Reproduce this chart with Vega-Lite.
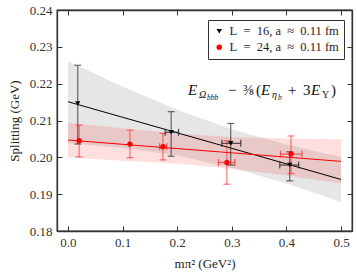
{
  "$schema": "https://vega.github.io/schema/vega-lite/v6.json",
  "width": 295,
  "height": 221,
  "autosize": {"type": "none"},
  "padding": {"left": 57, "top": 10, "right": 5, "bottom": 44},
  "background": "white",
  "config": {
    "font": "Liberation Serif",
    "view": {"stroke": "#333", "strokeWidth": 1.3},
    "axis": {"domainColor": "#333", "domainWidth": 1.3, "tickColor": "#333", "tickWidth": 1, "tickSize": -5, "labelPadding": 10, "labelOverlap": false, "labelFont": "Liberation Serif", "labelFontSize": 13, "labelColor": "#333", "titleFont": "Liberation Serif", "titleFontSize": 13, "titleFontWeight": "normal", "titleColor": "#222", "grid": false},
    "legend": {"strokeColor": "#333", "fillColor": "white", "padding": 5, "cornerRadius": 0, "labelFont": "Liberation Serif", "labelFontSize": 12.5, "labelColor": "#222", "symbolSize": 30, "rowPadding": 3}
  },
  "datasets": {
    "pts": [
      {"s": "L = 16, a ≈ 0.11 fm", "x": 0.018, "y": 0.2146, "ylo": 0.2036, "yhi": 0.2250},
      {"s": "L = 16, a ≈ 0.11 fm", "x": 0.189, "y": 0.2068, "ylo": 0.2003, "yhi": 0.2124, "xlo": 0.178, "xhi": 0.2025},
      {"s": "L = 16, a ≈ 0.11 fm", "x": 0.298, "y": 0.2038, "ylo": 0.1979, "yhi": 0.2092, "xlo": 0.2818, "xhi": 0.3164},
      {"s": "L = 16, a ≈ 0.11 fm", "x": 0.406, "y": 0.1979, "ylo": 0.1936, "yhi": 0.2015, "xlo": 0.3878, "xhi": 0.4224},
      {"s": "L = 24, a ≈ 0.11 fm", "x": 0.0205, "y": 0.2045, "ylo": 0.2001, "yhi": 0.2087},
      {"s": "L = 24, a ≈ 0.11 fm", "x": 0.1135, "y": 0.2036, "ylo": 0.1999, "yhi": 0.2074},
      {"s": "L = 24, a ≈ 0.11 fm", "x": 0.174, "y": 0.2029, "ylo": 0.1993, "yhi": 0.2065, "xlo": 0.168, "xhi": 0.181},
      {"s": "L = 24, a ≈ 0.11 fm", "x": 0.291, "y": 0.1986, "ylo": 0.1927, "yhi": 0.2045, "xlo": 0.2756, "xhi": 0.3055},
      {"s": "L = 24, a ≈ 0.11 fm", "x": 0.4084, "y": 0.2009, "ylo": 0.1956, "yhi": 0.2058, "xlo": 0.389, "xhi": 0.4284}
    ],
    "band": [
      {"s": "B", "x": 0.0, "lo": 0.2039, "hi": 0.2261},
      {"s": "B", "x": 0.1, "lo": 0.2026, "hi": 0.2192},
      {"s": "B", "x": 0.2, "lo": 0.2005, "hi": 0.2129},
      {"s": "B", "x": 0.3, "lo": 0.1972, "hi": 0.2076},
      {"s": "B", "x": 0.4, "lo": 0.1929, "hi": 0.2035},
      {"s": "B", "x": 0.5, "lo": 0.1879, "hi": 0.2001},
      {"s": "R", "x": 0.0, "lo": 0.2000, "hi": 0.2094},
      {"s": "R", "x": 0.1, "lo": 0.1991, "hi": 0.2079},
      {"s": "R", "x": 0.2, "lo": 0.1983, "hi": 0.2065},
      {"s": "R", "x": 0.3, "lo": 0.1969, "hi": 0.2055},
      {"s": "R", "x": 0.4, "lo": 0.1951, "hi": 0.2051},
      {"s": "R", "x": 0.5, "lo": 0.1929, "hi": 0.2049}
    ],
    "fit": [
      {"s": "B", "x": 0.0, "y": 0.2151},
      {"s": "B", "x": 0.5, "y": 0.1940},
      {"s": "R", "x": 0.0, "y": 0.2047},
      {"s": "R", "x": 0.5, "y": 0.1989}
    ],
    "one": [{}]
  },
  "layer": [
    {
      "layer": [
        {
          "data": {"name": "band"},
          "transform": [{"filter": "datum.s == 'B'"}],
          "mark": {"type": "area", "color": "#808080", "opacity": 0.2},
          "encoding": {
            "x": {"field": "x", "type": "quantitative", "title": "mπ² (GeV²)", "scale": {"domain": [-0.02, 0.52], "nice": false, "zero": false}, "axis": {"values": [0, 0.1, 0.2, 0.3, 0.4, 0.5], "format": ".1f", "titlePadding": 8, "labelOverlap": false}},
            "y": {"field": "lo", "type": "quantitative", "title": "Splitting (GeV)", "scale": {"domain": [0.18, 0.24], "nice": false, "zero": false}, "axis": {"values": [0.18, 0.19, 0.2, 0.21, 0.22, 0.23, 0.24], "format": ".2f", "titlePadding": 8, "labelOverlap": false}},
            "y2": {"field": "hi"}
          }
        },
        {
          "data": {"name": "band"},
          "transform": [{"filter": "datum.s == 'R'"}],
          "mark": {"type": "area", "color": "red", "opacity": 0.13},
          "encoding": {
            "x": {"field": "x", "type": "quantitative", "title": "mπ² (GeV²)", "scale": {"domain": [-0.02, 0.52], "nice": false, "zero": false}, "axis": {"values": [0, 0.1, 0.2, 0.3, 0.4, 0.5], "format": ".1f", "titlePadding": 8, "labelOverlap": false}},
            "y": {"field": "lo", "type": "quantitative", "title": "Splitting (GeV)", "scale": {"domain": [0.18, 0.24], "nice": false, "zero": false}, "axis": {"values": [0.18, 0.19, 0.2, 0.21, 0.22, 0.23, 0.24], "format": ".2f", "titlePadding": 8, "labelOverlap": false}},
            "y2": {"field": "hi"}
          }
        },
        {
          "data": {"name": "fit"},
          "transform": [{"filter": "datum.s == 'B'"}],
          "mark": {"type": "line", "color": "black", "strokeWidth": 1},
          "encoding": {
            "x": {"field": "x", "type": "quantitative", "title": "mπ² (GeV²)", "scale": {"domain": [-0.02, 0.52], "nice": false, "zero": false}, "axis": {"values": [0, 0.1, 0.2, 0.3, 0.4, 0.5], "format": ".1f", "titlePadding": 8, "labelOverlap": false}},
            "y": {"field": "y", "type": "quantitative", "title": "Splitting (GeV)", "scale": {"domain": [0.18, 0.24], "nice": false, "zero": false}, "axis": {"values": [0.18, 0.19, 0.2, 0.21, 0.22, 0.23, 0.24], "format": ".2f", "titlePadding": 8, "labelOverlap": false}}
          }
        },
        {
          "data": {"name": "fit"},
          "transform": [{"filter": "datum.s == 'R'"}],
          "mark": {"type": "line", "color": "red", "strokeWidth": 1},
          "encoding": {
            "x": {"field": "x", "type": "quantitative", "title": "mπ² (GeV²)", "scale": {"domain": [-0.02, 0.52], "nice": false, "zero": false}, "axis": {"values": [0, 0.1, 0.2, 0.3, 0.4, 0.5], "format": ".1f", "titlePadding": 8, "labelOverlap": false}},
            "y": {"field": "y", "type": "quantitative", "title": "Splitting (GeV)", "scale": {"domain": [0.18, 0.24], "nice": false, "zero": false}, "axis": {"values": [0.18, 0.19, 0.2, 0.21, 0.22, 0.23, 0.24], "format": ".2f", "titlePadding": 8, "labelOverlap": false}}
          }
        },
        {
          "data": {"name": "pts"},
          "transform": [{"filter": "indexof(datum.s, '16') >= 0"}],
          "mark": {"type": "errorbar", "ticks": {"size": 7}, "color": "#222", "opacity": 0.65, "thickness": 1.2},
          "encoding": {
            "x": {"field": "x", "type": "quantitative", "title": "mπ² (GeV²)", "scale": {"domain": [-0.02, 0.52], "nice": false, "zero": false}, "axis": {"values": [0, 0.1, 0.2, 0.3, 0.4, 0.5], "format": ".1f", "titlePadding": 8, "labelOverlap": false}},
            "y": {"field": "ylo", "type": "quantitative", "title": "Splitting (GeV)", "scale": {"domain": [0.18, 0.24], "nice": false, "zero": false}, "axis": {"values": [0.18, 0.19, 0.2, 0.21, 0.22, 0.23, 0.24], "format": ".2f", "titlePadding": 8, "labelOverlap": false}},
            "y2": {"field": "yhi"}
          }
        },
        {
          "data": {"name": "pts"},
          "transform": [{"filter": "indexof(datum.s, '24') >= 0"}],
          "mark": {"type": "errorbar", "ticks": {"size": 7}, "color": "#ff2020", "opacity": 0.6, "thickness": 1.2},
          "encoding": {
            "x": {"field": "x", "type": "quantitative", "title": "mπ² (GeV²)", "scale": {"domain": [-0.02, 0.52], "nice": false, "zero": false}, "axis": {"values": [0, 0.1, 0.2, 0.3, 0.4, 0.5], "format": ".1f", "titlePadding": 8, "labelOverlap": false}},
            "y": {"field": "ylo", "type": "quantitative", "title": "Splitting (GeV)", "scale": {"domain": [0.18, 0.24], "nice": false, "zero": false}, "axis": {"values": [0.18, 0.19, 0.2, 0.21, 0.22, 0.23, 0.24], "format": ".2f", "titlePadding": 8, "labelOverlap": false}},
            "y2": {"field": "yhi"}
          }
        },
        {
          "data": {"name": "pts"},
          "transform": [{"filter": "isValid(datum.xlo) && indexof(datum.s, '16') >= 0"}],
          "mark": {"type": "errorbar", "ticks": {"size": 7}, "color": "#222", "opacity": 0.8, "thickness": 1.2},
          "encoding": {
            "y": {"field": "y", "type": "quantitative", "title": "Splitting (GeV)", "scale": {"domain": [0.18, 0.24], "nice": false, "zero": false}, "axis": {"values": [0.18, 0.19, 0.2, 0.21, 0.22, 0.23, 0.24], "format": ".2f", "titlePadding": 8, "labelOverlap": false}},
            "x": {"field": "xlo", "type": "quantitative", "title": "mπ² (GeV²)", "scale": {"domain": [-0.02, 0.52], "nice": false, "zero": false}, "axis": {"values": [0, 0.1, 0.2, 0.3, 0.4, 0.5], "format": ".1f", "titlePadding": 8, "labelOverlap": false}},
            "x2": {"field": "xhi"}
          }
        },
        {
          "data": {"name": "pts"},
          "transform": [{"filter": "isValid(datum.xlo) && indexof(datum.s, '24') >= 0"}],
          "mark": {"type": "errorbar", "ticks": {"size": 7}, "color": "#ff2020", "opacity": 0.7, "thickness": 1.2},
          "encoding": {
            "y": {"field": "y", "type": "quantitative", "title": "Splitting (GeV)", "scale": {"domain": [0.18, 0.24], "nice": false, "zero": false}, "axis": {"values": [0.18, 0.19, 0.2, 0.21, 0.22, 0.23, 0.24], "format": ".2f", "titlePadding": 8, "labelOverlap": false}},
            "x": {"field": "xlo", "type": "quantitative", "title": "mπ² (GeV²)", "scale": {"domain": [-0.02, 0.52], "nice": false, "zero": false}, "axis": {"values": [0, 0.1, 0.2, 0.3, 0.4, 0.5], "format": ".1f", "titlePadding": 8, "labelOverlap": false}},
            "x2": {"field": "xhi"}
          }
        },
        {
          "data": {"name": "pts"},
          "mark": {"type": "point", "filled": true, "opacity": 1, "size": 28},
          "encoding": {
            "x": {"field": "x", "type": "quantitative", "title": "mπ² (GeV²)", "scale": {"domain": [-0.02, 0.52], "nice": false, "zero": false}, "axis": {"values": [0, 0.1, 0.2, 0.3, 0.4, 0.5], "format": ".1f", "titlePadding": 8, "labelOverlap": false}},
            "y": {"field": "y", "type": "quantitative", "title": "Splitting (GeV)", "scale": {"domain": [0.18, 0.24], "nice": false, "zero": false}, "axis": {"values": [0.18, 0.19, 0.2, 0.21, 0.22, 0.23, 0.24], "format": ".2f", "titlePadding": 8, "labelOverlap": false}},
            "color": {"field": "s", "type": "nominal", "scale": {"domain": ["L = 16, a ≈ 0.11 fm", "L = 24, a ≈ 0.11 fm"], "range": ["black", "red"]}, "legend": {"title": null, "orient": "none", "legendX": 151, "legendY": 10, "labelFont": "Liberation Serif", "labelExpr": "replace(replace(datum.label, ' = ', '\u2002=\u2002'), ' ≈ ', '\u2002≈\u2002')"}},
            "shape": {"field": "s", "type": "nominal", "scale": {"domain": ["L = 16, a ≈ 0.11 fm", "L = 24, a ≈ 0.11 fm"], "range": ["triangle-down", "circle"]}, "legend": {"title": null, "orient": "none", "legendX": 151, "legendY": 10, "labelFont": "Liberation Serif", "labelExpr": "replace(replace(datum.label, ' = ', '\u2002=\u2002'), ' ≈ ', '\u2002≈\u2002')"}}
          }
        },
        {"data": {"name": "one"}, "mark": {"type": "text", "text": "E", "fontStyle": "italic", "fontSize": 15, "align": "left", "baseline": "alphabetic", "dx": 0, "dy": 0, "color": "#111"},
         "encoding": {"x": {"datum": 0.22, "type": "quantitative", "title": "mπ² (GeV²)", "scale": {"domain": [-0.02, 0.52], "nice": false, "zero": false}, "axis": {"values": [0, 0.1, 0.2, 0.3, 0.4, 0.5], "format": ".1f", "titlePadding": 8, "labelOverlap": false}}, "y": {"datum": 0.2169, "type": "quantitative", "title": "Splitting (GeV)", "scale": {"domain": [0.18, 0.24], "nice": false, "zero": false}, "axis": {"values": [0.18, 0.19, 0.2, 0.21, 0.22, 0.23, 0.24], "format": ".2f", "titlePadding": 8, "labelOverlap": false}}}},
        {"data": {"name": "one"}, "mark": {"type": "text", "text": "Ω", "fontStyle": "italic", "fontSize": 10, "align": "left", "baseline": "alphabetic", "dx": 11, "dy": 3, "color": "#111"},
         "encoding": {"x": {"datum": 0.22, "type": "quantitative", "title": "mπ² (GeV²)", "scale": {"domain": [-0.02, 0.52], "nice": false, "zero": false}, "axis": {"values": [0, 0.1, 0.2, 0.3, 0.4, 0.5], "format": ".1f", "titlePadding": 8, "labelOverlap": false}}, "y": {"datum": 0.2169, "type": "quantitative", "title": "Splitting (GeV)", "scale": {"domain": [0.18, 0.24], "nice": false, "zero": false}, "axis": {"values": [0.18, 0.19, 0.2, 0.21, 0.22, 0.23, 0.24], "format": ".2f", "titlePadding": 8, "labelOverlap": false}}}},
        {"data": {"name": "one"}, "mark": {"type": "text", "text": "bbb", "fontStyle": "italic", "fontSize": 7.5, "align": "left", "baseline": "alphabetic", "dx": 19, "dy": 5, "color": "#111"},
         "encoding": {"x": {"datum": 0.22, "type": "quantitative", "title": "mπ² (GeV²)", "scale": {"domain": [-0.02, 0.52], "nice": false, "zero": false}, "axis": {"values": [0, 0.1, 0.2, 0.3, 0.4, 0.5], "format": ".1f", "titlePadding": 8, "labelOverlap": false}}, "y": {"datum": 0.2169, "type": "quantitative", "title": "Splitting (GeV)", "scale": {"domain": [0.18, 0.24], "nice": false, "zero": false}, "axis": {"values": [0.18, 0.19, 0.2, 0.21, 0.22, 0.23, 0.24], "format": ".2f", "titlePadding": 8, "labelOverlap": false}}}},
        {"data": {"name": "one"}, "mark": {"type": "text", "text": "−", "fontSize": 15, "align": "left", "baseline": "alphabetic", "dx": 40, "dy": 0, "color": "#111"},
         "encoding": {"x": {"datum": 0.22, "type": "quantitative", "title": "mπ² (GeV²)", "scale": {"domain": [-0.02, 0.52], "nice": false, "zero": false}, "axis": {"values": [0, 0.1, 0.2, 0.3, 0.4, 0.5], "format": ".1f", "titlePadding": 8, "labelOverlap": false}}, "y": {"datum": 0.2169, "type": "quantitative", "title": "Splitting (GeV)", "scale": {"domain": [0.18, 0.24], "nice": false, "zero": false}, "axis": {"values": [0.18, 0.19, 0.2, 0.21, 0.22, 0.23, 0.24], "format": ".2f", "titlePadding": 8, "labelOverlap": false}}}},
        {"data": {"name": "one"}, "mark": {"type": "text", "text": "⅜", "fontSize": 14, "align": "left", "baseline": "alphabetic", "dx": 55, "dy": 0, "color": "#111"},
         "encoding": {"x": {"datum": 0.22, "type": "quantitative", "title": "mπ² (GeV²)", "scale": {"domain": [-0.02, 0.52], "nice": false, "zero": false}, "axis": {"values": [0, 0.1, 0.2, 0.3, 0.4, 0.5], "format": ".1f", "titlePadding": 8, "labelOverlap": false}}, "y": {"datum": 0.2169, "type": "quantitative", "title": "Splitting (GeV)", "scale": {"domain": [0.18, 0.24], "nice": false, "zero": false}, "axis": {"values": [0.18, 0.19, 0.2, 0.21, 0.22, 0.23, 0.24], "format": ".2f", "titlePadding": 8, "labelOverlap": false}}}},
        {"data": {"name": "one"}, "mark": {"type": "text", "text": "(", "fontSize": 15, "align": "left", "baseline": "alphabetic", "dx": 68, "dy": 0, "color": "#111"},
         "encoding": {"x": {"datum": 0.22, "type": "quantitative", "title": "mπ² (GeV²)", "scale": {"domain": [-0.02, 0.52], "nice": false, "zero": false}, "axis": {"values": [0, 0.1, 0.2, 0.3, 0.4, 0.5], "format": ".1f", "titlePadding": 8, "labelOverlap": false}}, "y": {"datum": 0.2169, "type": "quantitative", "title": "Splitting (GeV)", "scale": {"domain": [0.18, 0.24], "nice": false, "zero": false}, "axis": {"values": [0.18, 0.19, 0.2, 0.21, 0.22, 0.23, 0.24], "format": ".2f", "titlePadding": 8, "labelOverlap": false}}}},
        {"data": {"name": "one"}, "mark": {"type": "text", "text": "E", "fontStyle": "italic", "fontSize": 15, "align": "left", "baseline": "alphabetic", "dx": 73, "dy": 0, "color": "#111"},
         "encoding": {"x": {"datum": 0.22, "type": "quantitative", "title": "mπ² (GeV²)", "scale": {"domain": [-0.02, 0.52], "nice": false, "zero": false}, "axis": {"values": [0, 0.1, 0.2, 0.3, 0.4, 0.5], "format": ".1f", "titlePadding": 8, "labelOverlap": false}}, "y": {"datum": 0.2169, "type": "quantitative", "title": "Splitting (GeV)", "scale": {"domain": [0.18, 0.24], "nice": false, "zero": false}, "axis": {"values": [0.18, 0.19, 0.2, 0.21, 0.22, 0.23, 0.24], "format": ".2f", "titlePadding": 8, "labelOverlap": false}}}},
        {"data": {"name": "one"}, "mark": {"type": "text", "text": "η", "fontStyle": "italic", "fontSize": 10, "align": "left", "baseline": "alphabetic", "dx": 84, "dy": 3, "color": "#111"},
         "encoding": {"x": {"datum": 0.22, "type": "quantitative", "title": "mπ² (GeV²)", "scale": {"domain": [-0.02, 0.52], "nice": false, "zero": false}, "axis": {"values": [0, 0.1, 0.2, 0.3, 0.4, 0.5], "format": ".1f", "titlePadding": 8, "labelOverlap": false}}, "y": {"datum": 0.2169, "type": "quantitative", "title": "Splitting (GeV)", "scale": {"domain": [0.18, 0.24], "nice": false, "zero": false}, "axis": {"values": [0.18, 0.19, 0.2, 0.21, 0.22, 0.23, 0.24], "format": ".2f", "titlePadding": 8, "labelOverlap": false}}}},
        {"data": {"name": "one"}, "mark": {"type": "text", "text": "b", "fontStyle": "italic", "fontSize": 7.5, "align": "left", "baseline": "alphabetic", "dx": 90, "dy": 5, "color": "#111"},
         "encoding": {"x": {"datum": 0.22, "type": "quantitative", "title": "mπ² (GeV²)", "scale": {"domain": [-0.02, 0.52], "nice": false, "zero": false}, "axis": {"values": [0, 0.1, 0.2, 0.3, 0.4, 0.5], "format": ".1f", "titlePadding": 8, "labelOverlap": false}}, "y": {"datum": 0.2169, "type": "quantitative", "title": "Splitting (GeV)", "scale": {"domain": [0.18, 0.24], "nice": false, "zero": false}, "axis": {"values": [0.18, 0.19, 0.2, 0.21, 0.22, 0.23, 0.24], "format": ".2f", "titlePadding": 8, "labelOverlap": false}}}},
        {"data": {"name": "one"}, "mark": {"type": "text", "text": "+", "fontSize": 15, "align": "left", "baseline": "alphabetic", "dx": 100, "dy": 0, "color": "#111"},
         "encoding": {"x": {"datum": 0.22, "type": "quantitative", "title": "mπ² (GeV²)", "scale": {"domain": [-0.02, 0.52], "nice": false, "zero": false}, "axis": {"values": [0, 0.1, 0.2, 0.3, 0.4, 0.5], "format": ".1f", "titlePadding": 8, "labelOverlap": false}}, "y": {"datum": 0.2169, "type": "quantitative", "title": "Splitting (GeV)", "scale": {"domain": [0.18, 0.24], "nice": false, "zero": false}, "axis": {"values": [0.18, 0.19, 0.2, 0.21, 0.22, 0.23, 0.24], "format": ".2f", "titlePadding": 8, "labelOverlap": false}}}},
        {"data": {"name": "one"}, "mark": {"type": "text", "text": "3", "fontSize": 15, "align": "left", "baseline": "alphabetic", "dx": 115, "dy": 0, "color": "#111"},
         "encoding": {"x": {"datum": 0.22, "type": "quantitative", "title": "mπ² (GeV²)", "scale": {"domain": [-0.02, 0.52], "nice": false, "zero": false}, "axis": {"values": [0, 0.1, 0.2, 0.3, 0.4, 0.5], "format": ".1f", "titlePadding": 8, "labelOverlap": false}}, "y": {"datum": 0.2169, "type": "quantitative", "title": "Splitting (GeV)", "scale": {"domain": [0.18, 0.24], "nice": false, "zero": false}, "axis": {"values": [0.18, 0.19, 0.2, 0.21, 0.22, 0.23, 0.24], "format": ".2f", "titlePadding": 8, "labelOverlap": false}}}},
        {"data": {"name": "one"}, "mark": {"type": "text", "text": "E", "fontStyle": "italic", "fontSize": 15, "align": "left", "baseline": "alphabetic", "dx": 123, "dy": 0, "color": "#111"},
         "encoding": {"x": {"datum": 0.22, "type": "quantitative", "title": "mπ² (GeV²)", "scale": {"domain": [-0.02, 0.52], "nice": false, "zero": false}, "axis": {"values": [0, 0.1, 0.2, 0.3, 0.4, 0.5], "format": ".1f", "titlePadding": 8, "labelOverlap": false}}, "y": {"datum": 0.2169, "type": "quantitative", "title": "Splitting (GeV)", "scale": {"domain": [0.18, 0.24], "nice": false, "zero": false}, "axis": {"values": [0.18, 0.19, 0.2, 0.21, 0.22, 0.23, 0.24], "format": ".2f", "titlePadding": 8, "labelOverlap": false}}}},
        {"data": {"name": "one"}, "mark": {"type": "text", "text": "Υ", "fontSize": 10, "align": "left", "baseline": "alphabetic", "dx": 134, "dy": 3, "color": "#111"},
         "encoding": {"x": {"datum": 0.22, "type": "quantitative", "title": "mπ² (GeV²)", "scale": {"domain": [-0.02, 0.52], "nice": false, "zero": false}, "axis": {"values": [0, 0.1, 0.2, 0.3, 0.4, 0.5], "format": ".1f", "titlePadding": 8, "labelOverlap": false}}, "y": {"datum": 0.2169, "type": "quantitative", "title": "Splitting (GeV)", "scale": {"domain": [0.18, 0.24], "nice": false, "zero": false}, "axis": {"values": [0.18, 0.19, 0.2, 0.21, 0.22, 0.23, 0.24], "format": ".2f", "titlePadding": 8, "labelOverlap": false}}}},
        {"data": {"name": "one"}, "mark": {"type": "text", "text": ")", "fontSize": 15, "align": "left", "baseline": "alphabetic", "dx": 143, "dy": 0, "color": "#111"},
         "encoding": {"x": {"datum": 0.22, "type": "quantitative", "title": "mπ² (GeV²)", "scale": {"domain": [-0.02, 0.52], "nice": false, "zero": false}, "axis": {"values": [0, 0.1, 0.2, 0.3, 0.4, 0.5], "format": ".1f", "titlePadding": 8, "labelOverlap": false}}, "y": {"datum": 0.2169, "type": "quantitative", "title": "Splitting (GeV)", "scale": {"domain": [0.18, 0.24], "nice": false, "zero": false}, "axis": {"values": [0.18, 0.19, 0.2, 0.21, 0.22, 0.23, 0.24], "format": ".2f", "titlePadding": 8, "labelOverlap": false}}}}
      ]
    },
    {
      "data": {"name": "fit"},
      "mark": {"type": "point", "opacity": 0},
      "encoding": {
        "x": {"field": "x", "type": "quantitative", "scale": {"domain": [-0.02, 0.52], "nice": false, "zero": false}, "axis": {"orient": "top", "labels": false, "title": null, "values": [0, 0.1, 0.2, 0.3, 0.4, 0.5]}},
        "y": {"field": "y", "type": "quantitative", "scale": {"domain": [0.18, 0.24], "nice": false, "zero": false}, "axis": {"orient": "right", "labels": false, "title": null, "values": [0.18, 0.19, 0.2, 0.21, 0.22, 0.23, 0.24]}}
      }
    }
  ],
  "resolve": {"axis": {"x": "independent", "y": "independent"}}
}
